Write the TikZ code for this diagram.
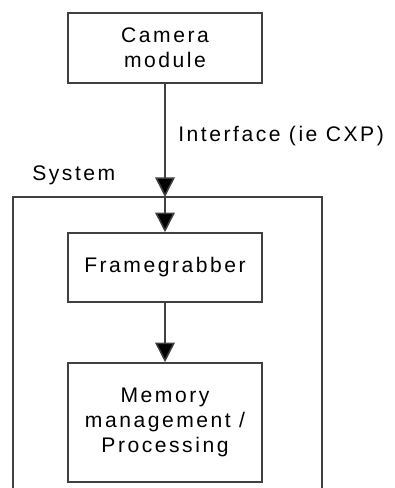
\documentclass[tikz,border=0pt]{standalone}
\usepackage{fontspec}
\setmainfont{Liberation Sans}[LetterSpace=12]
\usepackage{tikz}
\usetikzlibrary{arrows.meta}

\tikzset{
  blockbox/.style={draw=black!75, line width=1.1pt, minimum width=4.85cm,
    align=center, font=\fontsize{15}{17.5}\selectfont},
  labeltext/.style={anchor=west, inner sep=0pt, font=\fontsize{15}{17.5}\selectfont},
  flow/.style={draw=black!75, line width=1.1pt,
    -{Triangle[width=14pt, length=14pt, fill=black]}}
}

\begin{document}
\begin{tikzpicture}[x=0.025cm, y=-0.025cm]
    \useasboundingbox (0, 0) rectangle (395, 488);
    \clip (0, 0) rectangle (395, 488);
    \begin{scope}
      % system frame, runs off the bottom
      \draw[line width=1.1pt, draw=black!75] (13, 197) rectangle (322, 540);
      \coordinate (sysin) at (165, 197);
      \node (camera) [blockbox, minimum height=1.75cm] at (165, 48) {Camera\\module};
      \node (grabber) [blockbox, minimum height=1.725cm] at (165, 267.5) {Framegrabber};
      \node (memory) [blockbox, minimum height=2.975cm] at (165, 422.5) {Memory\\management /\\Processing};
      \node (iface) [labeltext] at (178, 136) {Interface (ie CXP)};
      \node (syslabel) [labeltext] at (32, 175) {System};
      \draw[flow] (camera) -- (sysin);
      \draw[flow] (sysin) -- (grabber);
      \draw[flow] (grabber) -- (memory);
    \end{scope}
  \end{tikzpicture}
\end{document}
